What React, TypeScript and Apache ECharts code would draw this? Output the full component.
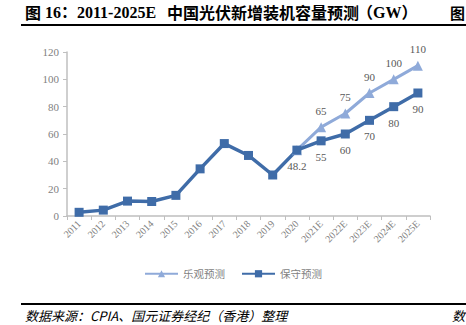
import React, { useEffect, useRef } from "react";
import * as echarts from "echarts";

const categories = ["2011","2012","2013","2014","2015","2016","2017","2018","2019","2020","2021E","2022E","2023E","2024E","2025E"];
const optimistic = [null,null,null,null,null,null,null,null,null,48.2,65,75,90,100,110];
const conservative = [2.7,4.3,10.9,10.6,15.1,34.5,53,44.3,30,48.2,55,60,70,80,90];
const forecastStart = 9;

const titleParts = ["图", "16：", "2011-2025E", "中国光伏新增装机容量预测", "（GW）"];
const sourceText = "数据来源：CPIA、国元证券经纪（香港）整理";

const LIGHT = "#8FAAD9";
const DARK = "#3F6CA8";
const SERIF = "'Liberation Serif', 'Times New Roman', serif";
const CJK = "'Noto Sans CJK SC', sans-serif";
const MIXED = "'Liberation Serif', 'Noto Sans CJK SC', serif";

export default function App() {
  const ref = useRef<HTMLDivElement>(null);
  useEffect(() => {
    document.body.style.margin = "0";
    const chart = echarts.init(ref.current!, null, { renderer: "svg" });
    const labelStyle = { color: "#595959", fontFamily: SERIF, fontSize: 11 };
    const titleX = [25, 45, 77, 167, 357];
    chart.setOption({
      animation: false,
      backgroundColor: "#ffffff",
      grid: { left: 67, right: 36, top: 52, bottom: 109 },
      xAxis: {
        type: "category",
        data: categories,
        boundaryGap: true,
        axisLine: { lineStyle: { color: "#BFBFBF", width: 1.5 } },
        axisTick: { show: true, alignWithLabel: false, length: 4, lineStyle: { color: "#BFBFBF" } },
        axisLabel: { rotate: 45, color: "#7F7F7F", fontFamily: SERIF, fontSize: 10, margin: 6, interval: 0 },
      },
      yAxis: {
        type: "value",
        min: 0,
        max: 120,
        interval: 20,
        axisLine: { show: true, lineStyle: { color: "#BFBFBF", width: 1.5 } },
        axisTick: { show: true, length: 4, lineStyle: { color: "#BFBFBF" } },
        splitLine: { show: false },
        axisLabel: { color: "#7F7F7F", fontFamily: SERIF, fontSize: 11, margin: 8 },
      },
      legend: {
        bottom: 41,
        left: "center",
        itemWidth: 33,
        itemHeight: 9,
        itemGap: 16,
        textStyle: { color: "#7F7F7F", fontFamily: CJK, fontSize: 10.5 },
        data: ["乐观预测", "保守预测"],
      },
      series: [
        {
          name: "乐观预测",
          type: "line",
          data: optimistic.map((v, i) => ({
            value: v,
            label: { show: i > forecastStart },
          })),
          color: LIGHT,
          lineStyle: { width: 3, color: LIGHT },
          symbol: "triangle",
          symbolSize: 10,
          itemStyle: { color: LIGHT },
          label: { position: "top", distance: 6, ...labelStyle },
        },
        {
          name: "保守预测",
          type: "line",
          data: conservative.map((v, i) => ({
            value: v,
            label: { show: i >= forecastStart },
          })),
          color: DARK,
          lineStyle: { width: 3.5, color: DARK },
          symbol: "rect",
          symbolSize: 9,
          itemStyle: { color: DARK },
          label: { position: "bottom", distance: 6, ...labelStyle },
        },
      ],
      graphic: [
        ...titleParts.map((t, i) => ({
          type: "text",
          left: titleX[i],
          top: 4,
          style: { text: t, font: `bold 16px ${i === 1 || i === 2 || i === 4 ? MIXED : CJK}`, fill: "#000" },
        })),
        { type: "text", left: 450, top: 5, style: { text: "图", font: `bold 15px ${CJK}`, fill: "#000" } },
        { type: "rect", shape: { x: 21, y: 24, width: 445, height: 2 }, style: { fill: "#000" } },
        { type: "rect", shape: { x: 21, y: 303, width: 445, height: 2 }, style: { fill: "#000" } },
        { type: "text", left: 25, top: 309, style: { text: sourceText, font: `italic 13px ${CJK}`, fill: "#000" } },
        { type: "text", left: 452, top: 309, style: { text: "数", font: `italic 13px ${CJK}`, fill: "#000" } },
      ],
    });
    return () => chart.dispose();
  }, []);
  return <div ref={ref} style={{ width: 466, height: 325 }} />;
}
